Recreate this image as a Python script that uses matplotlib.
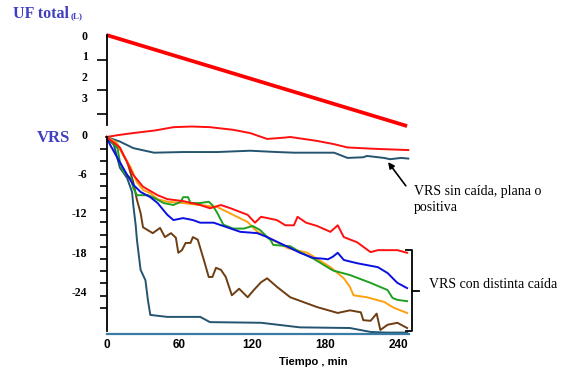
import numpy as np
import matplotlib.pyplot as plt
from matplotlib.transforms import ScaledTranslation

# UF total acumulada (L) frente al tiempo (min)
t_uf = [0, 247]
uf_total = [0, 4.4]

# curvas VRS (%) -- cada curva con su propio muestreo de tiempo (min)
t_red_flat = [0, 10, 22, 40, 55, 70, 85, 104, 118, 132, 146, 151, 162, 173, 187, 198, 219, 248]
v_red_flat = [0, 0.3, 0.6, 1.0, 1.5, 1.6, 1.5, 1.1, 0.6, -0.3, -0.1, 0, -0.3, -0.6, -1.1, -1.6, -1.8, -2.0]

t_teal_flat = [0, 11, 22, 39, 63, 91, 118, 140, 154, 187, 198, 211, 214, 228, 233, 242, 248]
v_teal_flat = [0, -0.7, -1.7, -2.4, -2.3, -2.3, -2.1, -2.3, -2.4, -2.4, -3.2, -3.1, -2.9, -3.2, -3.4, -3.2, -3.3]

t_red = [0, 11, 22, 30, 42, 50, 63, 77, 85, 94, 102, 116, 122, 127, 140, 147, 154, 157, 164, 173,
         184, 190, 195, 206, 217, 223, 239, 247]
v_red = [0, -1.6, -5.8, -7.6, -8.9, -9.5, -9.8, -10.4, -10.9, -10.4, -10.9, -11.9, -13.1, -12.2, -12.7,
         -13.5, -13.5, -12.2, -13.1, -13.6, -14.5, -13.5, -15.3, -16.1, -17.6, -17.3, -17.3, -17.7]

t_blue = [0, 3, 9, 17, 22, 28, 36, 42, 50, 55, 63, 71, 77, 88, 99, 110, 124, 132, 149, 159, 170, 178,
          182, 186, 190, 195, 206, 223, 231, 239, 247]
v_blue = [0, -1.2, -3.2, -5.8, -7.3, -8.4, -9.2, -10.1, -11.9, -12.7, -12.4, -12.7, -13.1, -13.1, -13.8,
          -14.5, -14.7, -15.3, -16.8, -17.7, -18.5, -18.6, -18.7, -18.3, -17.7, -18.8, -19.3, -19.9,
          -20.8, -22.3, -23.1]

t_green = [0, 9, 11, 14, 20, 22, 25, 34, 39, 47, 55, 61, 63, 67, 69, 77, 84, 87, 91, 96, 104, 113,
           120, 126, 135, 137, 151, 159, 170, 186, 200, 217, 231, 235, 239, 247]
v_green = [0, -1.7, -3.8, -5.4, -6.3, -7.8, -8.9, -8.9, -9.3, -10.1, -10.4, -9.9, -9.2, -9.2, -10.1,
           -10.1, -9.9, -10.4, -11.6, -13.4, -14.0, -14.0, -13.6, -14.2, -15.8, -16.5, -16.7, -17.6,
           -18.6, -20.4, -21.1, -22.3, -23.4, -24.6, -24.9, -25.1]

t_orange = [0, 8, 14, 20, 25, 30, 36, 42, 50, 63, 77, 91, 104, 116, 124, 132, 149, 165, 184, 195,
            200, 203, 214, 228, 236, 247]
v_orange = [0, -0.8, -2.8, -4.7, -6.9, -8.1, -8.6, -9.5, -9.9, -10.1, -10.4, -10.7, -11.9, -13.0,
            -14.5, -15.3, -17.0, -17.7, -19.9, -21.6, -22.9, -24.2, -24.5, -25.2, -26.1, -26.9]

t_brown = [0, 9, 17, 22, 25, 28, 30, 38, 44, 48, 53, 57, 59, 62, 65, 69, 71, 75, 80, 84, 87, 90, 94,
           98, 103, 109, 116, 121, 127, 132, 140, 151, 173, 190, 200, 209, 211, 217, 222, 225, 231,
           239, 247]
v_brown = [0, -1.2, -3.8, -6.9, -9.6, -11.6, -13.8, -14.7, -13.9, -15.3, -14.7, -15.4, -17.7, -17.3,
           -16.2, -16.2, -15.3, -15.7, -18.8, -21.4, -21.4, -20.0, -20.3, -21.4, -24.2, -23.2, -24.5,
           -23.4, -22.2, -21.6, -22.9, -24.5, -26.0, -26.9, -26.5, -26.8, -28.0, -28.1, -27.0, -29.5,
           -28.7, -28.4, -29.2]

t_teal = [0, 6, 11, 17, 21, 22, 24, 25, 28, 32, 34, 36, 50, 77, 85, 127, 159, 200, 217, 230, 247]
v_teal = [0, -1.2, -4.7, -6.3, -8.4, -10.4, -13.5, -15.7, -20.3, -21.9, -24.9, -27.2, -27.5, -27.5,
          -28.3, -28.4, -29.1, -29.2, -29.8, -29.9, -29.9]

x_ticks = [0, 60, 120, 180, 240]
uf_ticks = [0, 1, 2, 3]
vrs_ticks = [0, -6, -12, -18, -24]

W, H = 566, 374
BLUE_TXT = '#4040c0'
TEAL = '#245470'
serif_b = dict(family='Liberation Serif', weight='bold')

fig = plt.figure(figsize=(W / 100, H / 100), dpi=100)
ax_uf = fig.add_axes([106.5 / W, 1 - 127.1 / H, 304 / W, 98.3 / H])
ax_vrs = fig.add_axes([106.5 / W, 1 - 333.9 / H, 304 / W, 210 / H])
for ax in (ax_uf, ax_vrs):
    ax.set_xlim(0, 249.8)
    ax.patch.set_alpha(0)
    ax.spines['top'].set_visible(False)
    ax.spines['right'].set_visible(False)
    ax.spines['left'].set_linewidth(1.3)

# panel superior: UF total
ax_uf.plot(t_uf, uf_total, color='red', lw=2.7, solid_capstyle='butt', clip_on=False)
ax_uf.set_ylim(4.45, -0.3)
ax_uf.spines['bottom'].set_visible(False)
ax_uf.spines['left'].set_bounds(0, 4.35)
ax_uf.set_xticks([])
ax_uf.set_yticks(uf_ticks)
ax_uf.set_yticklabels([str(v) for v in uf_ticks], fontsize=8.5, **serif_b)
ax_uf.set_yticks([0, 1.21, 2.66, 3.82], minor=True)
ax_uf.tick_params(axis='y', which='major', length=0, pad=13.7)
ax_uf.tick_params(axis='y', which='minor', length=7, width=1.2)

# panel inferior: VRS
series = [(t_red_flat, v_red_flat, '#ff1010'), (t_teal_flat, v_teal_flat, TEAL),
          (t_teal, v_teal, TEAL), (t_brown, v_brown, '#6e3d12'),
          (t_orange, v_orange, '#ffa010'), (t_green, v_green, '#20a020'),
          (t_blue, v_blue, '#0a10e0'), (t_red, v_red, '#ff1010')]
for tt, vv, col in series:
    ax_vrs.plot(tt, vv, color=col, lw=1.4, clip_on=False)

ax_vrs.set_ylim(-30.1, 2.0)
ax_vrs.spines['left'].set_bounds(-29.6, 0)
ax_vrs.spines['bottom'].set_color('#3a7ca5')
ax_vrs.spines['bottom'].set_linewidth(1.6)
ax_vrs.spines['bottom'].set_bounds(0, 248.5)
ax_vrs.set_yticks(vrs_ticks)
ax_vrs.set_yticklabels([str(v) for v in vrs_ticks], fontsize=8.5, **serif_b)
ax_vrs.set_yticks(np.linspace(0, -26.1, 15), minor=True)
ax_vrs.tick_params(axis='y', which='major', length=0, pad=13.7)
ax_vrs.tick_params(axis='y', which='minor', length=5, width=1.2)
# las etiquetas del original quedan un poco por encima de su nivel
shift_up = ScaledTranslation(0, 2.5 / 100, fig.dpi_scale_trans)
for lab in ax_vrs.get_yticklabels():
    lab.set_transform(lab.get_transform() + shift_up)
ax_vrs.set_xticks(x_ticks)
ax_vrs.set_xticklabels([str(v) for v in x_ticks], fontsize=8.5, family='Liberation Sans', weight='bold')
ax_vrs.tick_params(axis='x', length=0, pad=4)
ax_vrs.text(0.68, -0.135, 'Tiempo , min', transform=ax_vrs.transAxes, ha='center', va='center',
            fontsize=8, family='Liberation Sans', weight='bold')

# titulos de los paneles
fig.text(13 / W, 1 - 18.5 / H, 'UF total', color=BLUE_TXT, fontsize=11.5, va='baseline', **serif_b)
fig.text(70.5 / W, 1 - 18.5 / H, '(L)', color=BLUE_TXT, fontsize=6.5, va='baseline', **serif_b)
fig.text(37 / W, 1 - 142 / H, 'VRS', color=BLUE_TXT, fontsize=12, va='baseline', **serif_b)

# anotaciones
ax_vrs.annotate('', xy=(230, -3.5), xytext=(247.3, -7.8), annotation_clip=False,
                arrowprops=dict(arrowstyle='-|>', color='black', lw=1.2, mutation_scale=9))
ax_vrs.text(252.3, -9.55, 'VRS sin caída, plana o\npositiva', ha='left', va='center', fontsize=10,
            family='Liberation Serif', linespacing=1.35)
ax_vrs.plot([245.7, 251.4, 251.4, 245.7], [-17.3, -17.3, -29.7, -29.7], color='black', lw=1.3,
            clip_on=False)
ax_vrs.plot([251.4, 256.4], [-23.5, -23.5], color='black', lw=1.3, clip_on=False)
ax_vrs.text(264.6, -22.6, 'VRS con distinta caída', ha='left', va='center', fontsize=10,
            family='Liberation Serif')

fig.savefig('out.png', dpi=100)
